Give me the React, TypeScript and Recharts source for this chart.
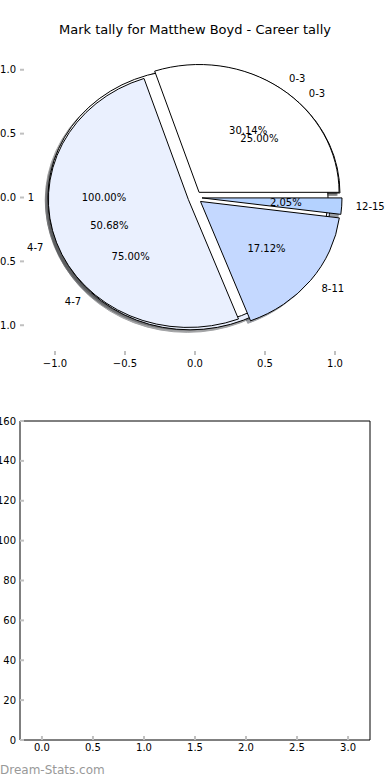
import React from 'react';
import { PieChart, Pie, ScatterChart, Scatter, XAxis, YAxis } from 'recharts';

// career tally, grouped by marks per game
const tallyLabels = ['0-3', '4-7', '8-11', '12-15'];
const tallyCounts = [44, 74, 25, 3];
const tallyColors = ['#ffffff', '#eaf0fe', '#c4d8ff', '#b4d2ff'];

const recentLabels = ['0-3', '4-7'];
const recentCounts = [1, 3];
const recentColors = ['#ffffff', '#eaf0fe'];

const singleLabels = ['1'];
const singleCounts = [1];
const singleColors = ['#ffffff'];

const pieTicks = [-1, -0.5, 0, 0.5, 1];
const emptyXTicks = [0, 0.5, 1, 1.5, 2, 2.5, 3];
const emptyYTicks = [0, 20, 40, 60, 80, 100, 120, 140, 160];

const toRows = (labels: string[], counts: number[]) =>
  labels.map((name, i) => ({ name, value: counts[i] }));

const tallyRows = toRows(tallyLabels, tallyCounts);
const recentRows = toRows(recentLabels, recentCounts);
const singleRows = toRows(singleLabels, singleCounts);

const CX = 195;
const CY = 197.5;
const RADIUS = 140;
const Y_SCALE = 127.8 / 140; // the axes are not square, so the pie is squashed
const EXPLODE = 0.05;
const SHADOW = 0.02;
const RAD = Math.PI / 180;
const FONT = '"DejaVu Sans", sans-serif';
const TICK_GREY = '#c0c0c0';

const fmtPie = (v: number) => (v < 0 ? '\u2212' : '') + Math.abs(v).toFixed(1);

const wedgePath = (cx: number, cy: number, rx: number, ry: number, a0: number, a1: number) => {
  if (a1 - a0 >= 359.999) {
    return `M ${cx - rx} ${cy} A ${rx} ${ry} 0 1 0 ${cx + rx} ${cy} A ${rx} ${ry} 0 1 0 ${cx - rx} ${cy} Z`;
  }
  const x0 = cx + rx * Math.cos(a0 * RAD);
  const y0 = cy - ry * Math.sin(a0 * RAD);
  const x1 = cx + rx * Math.cos(a1 * RAD);
  const y1 = cy - ry * Math.sin(a1 * RAD);
  const large = a1 - a0 > 180 ? 1 : 0;
  return `M ${cx} ${cy} L ${x0} ${y0} A ${rx} ${ry} 0 ${large} 0 ${x1} ${y1} Z`;
};

const geometry = (props: any) => {
  const a0 = Math.min(props.startAngle, props.endAngle);
  const a1 = Math.max(props.startAngle, props.endAngle);
  const mid = ((a0 + a1) / 2) * RAD;
  const rx = props.outerRadius;
  const ry = props.outerRadius * Y_SCALE;
  const ox = props.cx + EXPLODE * rx * Math.cos(mid);
  const oy = props.cy - EXPLODE * ry * Math.sin(mid);
  return { a0, a1, mid, rx, ry, ox, oy };
};

const shade = (hex: string) => {
  const n = parseInt(hex.slice(1), 16);
  const r = Math.round(((n >> 16) & 255) * 0.3);
  const g = Math.round(((n >> 8) & 255) * 0.3);
  const b = Math.round((n & 255) * 0.3);
  return `rgb(${r},${g},${b})`;
};

const shadowRenderer = (colors: string[]) => (props: any) => {
  const { a0, a1, rx, ry, ox, oy } = geometry(props);
  const c = shade(colors[props.index]);
  return (
    <path
      d={wedgePath(ox - SHADOW * rx, oy + SHADOW * ry, rx, ry, a0, a1)}
      fill={c}
      stroke={c}
      strokeWidth={1}
      opacity={0.5}
    />
  );
};

const wedgeRenderer = (colors: string[]) => (props: any) => {
  const { a0, a1, rx, ry, ox, oy } = geometry(props);
  return <path d={wedgePath(ox, oy, rx, ry, a0, a1)} fill={colors[props.index]} stroke="#000" strokeWidth={1} />;
};

const textRenderer = (props: any) => {
  const { mid, rx, ry, ox, oy } = geometry(props);
  const name = props.payload?.name ?? props.name;
  const lx = ox + 1.1 * rx * Math.cos(mid);
  const ly = oy - 1.1 * ry * Math.sin(mid);
  const px = ox + 0.6 * rx * Math.cos(mid);
  const py = oy - 0.6 * ry * Math.sin(mid);
  return (
    <g style={{ fontFamily: FONT, fontSize: 10 }}>
      <text x={lx} y={ly} textAnchor={lx > props.cx ? 'start' : 'end'} dominantBaseline="central" fill="#000">
        {name}
      </text>
      <text x={px} y={py} textAnchor="middle" dominantBaseline="central" fill="#000">
        {(props.percent * 100).toFixed(2)}%
      </text>
    </g>
  );
};

const pieSets = [
  { key: 'recent', rows: recentRows, colors: recentColors },
  { key: 'single', rows: singleRows, colors: singleColors },
  { key: 'tally', rows: tallyRows, colors: tallyColors },
];

const pieBase = {
  dataKey: 'value',
  nameKey: 'name',
  cx: CX,
  cy: CY,
  outerRadius: RADIUS,
  startAngle: 0,
  endAngle: 360,
  fill: 'none',
  stroke: 'none',
  labelLine: false,
  isAnimationActive: false,
};

const tickStyle = { fontSize: 10, fill: '#000', fontFamily: FONT };

const App: React.FC = () => {
  return (
    <div style={{ position: 'absolute', left: 0, top: 0, width: 390, height: 780, background: '#fff', fontFamily: FONT }}>
      <div style={{ position: 'absolute', top: 22, left: 0, width: 390, textAlign: 'center', fontSize: 13, lineHeight: '16px', color: '#000' }}>
        Mark tally for Matthew Boyd - Career tally
      </div>

      {/* axes around the pie: ticks only, no frame */}
      <div style={{ position: 'absolute', top: 0, left: 0 }}>
        <ScatterChart width={390} height={380} margin={{ top: 39, right: 0, bottom: 0, left: 0 }}>
          <XAxis xAxisId="b" type="number" dataKey="x" domain={[-1.25, 1.25]} allowDataOverflow ticks={pieTicks} interval={0}
            height={25} axisLine={false} stroke={TICK_GREY} tickLine={{ stroke: TICK_GREY, strokeWidth: 2 }} tickSize={-4} tickMargin={9}
            tick={tickStyle} tickFormatter={fmtPie} />
          <XAxis xAxisId="t" orientation="top" type="number" dataKey="x" domain={[-1.25, 1.25]} allowDataOverflow ticks={pieTicks} interval={0}
            height={1} axisLine={false} stroke={TICK_GREY} tickLine={{ stroke: TICK_GREY, strokeWidth: 2 }} tickSize={-4} tick={false} />
          <YAxis yAxisId="l" type="number" dataKey="y" domain={[-1.233, 1.233]} allowDataOverflow ticks={pieTicks} interval={0}
            width={20} axisLine={false} stroke={TICK_GREY} tickLine={{ stroke: TICK_GREY, strokeWidth: 2 }} tickSize={-4} tickMargin={8}
            tick={tickStyle} tickFormatter={fmtPie} />
          <YAxis yAxisId="r" orientation="right" type="number" dataKey="y" domain={[-1.233, 1.233]} allowDataOverflow ticks={pieTicks} interval={0}
            width={20} axisLine={false} stroke={TICK_GREY} tickLine={{ stroke: TICK_GREY, strokeWidth: 2 }} tickSize={-4} tick={false} />
          <Scatter data={[]} xAxisId="b" yAxisId="l" isAnimationActive={false} />
        </ScatterChart>
      </div>

      <div style={{ position: 'absolute', top: 0, left: 0 }}>
        <PieChart width={390} height={380} margin={{ top: 0, right: 0, bottom: 0, left: 0 }}>
          {pieSets.map((s) => (
            <Pie key={`shadow-${s.key}`} {...pieBase} data={s.rows} label={shadowRenderer(s.colors)} />
          ))}
          {pieSets.map((s) => (
            <Pie key={`wedge-${s.key}`} {...pieBase} data={s.rows} label={wedgeRenderer(s.colors)} />
          ))}
          {pieSets.map((s) => (
            <Pie key={`text-${s.key}`} {...pieBase} data={s.rows} label={textRenderer} />
          ))}
        </PieChart>
      </div>

      {/* empty lower axes */}
      <div style={{ position: 'absolute', top: 400, left: 0 }}>
        <ScatterChart width={390} height={380} margin={{ top: 20, right: 0, bottom: 15, left: 0 }}>
          <XAxis xAxisId="b" type="number" dataKey="x" domain={[-0.215, 3.215]} allowDataOverflow ticks={emptyXTicks} interval={0}
            height={25} axisLine={{ stroke: '#000', strokeWidth: 1 }} tickLine={{ stroke: TICK_GREY, strokeWidth: 2 }} tickSize={-4} tickMargin={8}
            tick={tickStyle} tickFormatter={(v: number) => v.toFixed(1)} />
          <XAxis xAxisId="t" orientation="top" type="number" dataKey="x" domain={[-0.215, 3.215]} allowDataOverflow ticks={emptyXTicks} interval={0}
            height={1} axisLine={{ stroke: '#000', strokeWidth: 1 }} tickLine={{ stroke: TICK_GREY, strokeWidth: 2 }} tickSize={-4} tick={false} />
          <YAxis yAxisId="l" type="number" dataKey="y" domain={[0, 160]} allowDataOverflow ticks={emptyYTicks} interval={0}
            width={20} axisLine={{ stroke: '#000', strokeWidth: 1 }} tickLine={{ stroke: TICK_GREY, strokeWidth: 2 }} tickSize={-4} tickMargin={8}
            tick={tickStyle} />
          <YAxis yAxisId="r" orientation="right" type="number" dataKey="y" domain={[0, 160]} allowDataOverflow ticks={emptyYTicks} interval={0}
            width={20} axisLine={{ stroke: '#000', strokeWidth: 1 }} tickLine={{ stroke: TICK_GREY, strokeWidth: 2 }} tickSize={-4} tick={false} />
          <Scatter data={[]} xAxisId="b" yAxisId="l" isAnimationActive={false} />
        </ScatterChart>
      </div>

      <div style={{ position: 'absolute', left: 0, top: 762, fontSize: 12, lineHeight: '16px', color: '#999' }}>
        Dream-Stats.com
      </div>
    </div>
  );
};

export default App;
